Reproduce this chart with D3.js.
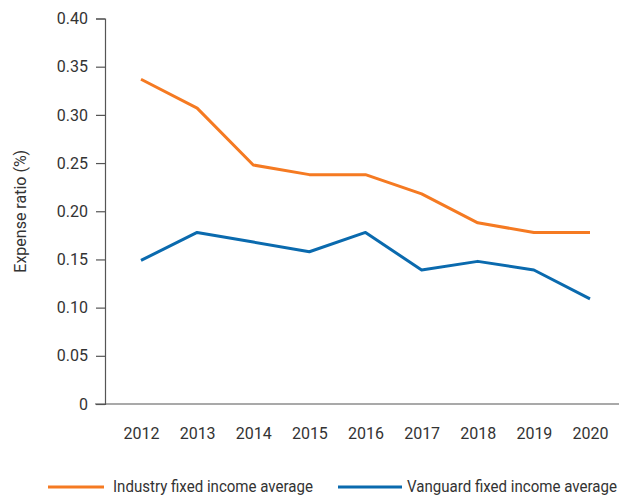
<!DOCTYPE html>
<html>
<head>
<meta charset="utf-8">
<script src="https://cdn.jsdelivr.net/npm/d3@7"></script>
<style>
  body { margin: 0; background: #fff; }
  svg text { font-family: "Roboto", "Liberation Sans", sans-serif; fill: #333; }
</style>
</head>
<body>
<div id="chart"></div>
<script>
// Expense ratio, fixed income funds, 2012-2020
const years = ["2012", "2013", "2014", "2015", "2016", "2017", "2018", "2019", "2020"];
const industry = [0.337, 0.307, 0.248, 0.238, 0.238, 0.218, 0.188, 0.178, 0.178];
const vanguard = [0.149, 0.178, 0.168, 0.158, 0.178, 0.139, 0.148, 0.139, 0.109];
const yTicks = [0, 0.05, 0.10, 0.15, 0.20, 0.25, 0.30, 0.35, 0.40];
const seriesNames = ["Industry fixed income average", "Vanguard fixed income average"];

const width = 633, height = 497;
const margin = { top: 18, right: 14, bottom: 94, left: 105 };

const svg = d3.select("#chart").append("svg")
  .attr("width", width)
  .attr("height", height);

const x = d3.scalePoint()
  .domain(years)
  .range([141, 590]);

const y = d3.scaleLinear()
  .domain([0, 0.40])
  .range([height - margin.bottom + 1, margin.top + 0.5]);

// y axis
const yAxis = svg.append("g")
  .attr("transform", `translate(${margin.left},0)`)
  .call(d3.axisLeft(y)
    .tickValues(yTicks)
    .tickSize(9)
    .tickPadding(8)
    .tickFormat(d => d === 0 ? "0" : d3.format(".2f")(d)));
yAxis.select(".domain").attr("stroke", "#555").attr("stroke-width", 1.2);
yAxis.selectAll(".tick line").attr("stroke", "#555").attr("stroke-width", 1.2);
yAxis.selectAll("text").style("font-size", "16px").attr("fill", "#333");

// x axis baseline
svg.append("line")
  .attr("x1", 95).attr("x2", 619)
  .attr("y1", y(0)).attr("y2", y(0))
  .attr("stroke", "#555").attr("stroke-width", 1.2);

const xAxis = svg.append("g")
  .attr("transform", `translate(0,${y(0)})`)
  .call(d3.axisBottom(x).tickSize(0).tickPadding(24));
xAxis.select(".domain").remove();
xAxis.selectAll("text").style("font-size", "16px").attr("fill", "#333");

// axis title
svg.append("text")
  .attr("transform", `translate(26,${(y(0) + y(0.40)) / 2}) rotate(-90)`)
  .attr("text-anchor", "middle")
  .style("font-size", "16px")
  .text("Expense ratio (%)");

// lines
const line = d3.line()
  .x((d, i) => x(years[i]))
  .y(d => y(d));

const colors = ["#f57a22", "#0a6aae"];
[industry, vanguard].forEach((vals, k) => {
  svg.append("path")
    .datum(vals)
    .attr("fill", "none")
    .attr("stroke", colors[k])
    .attr("stroke-width", 3)
    .attr("stroke-linejoin", "round")
    .attr("d", line);
});

// legend
const legendY = 487;
const legendItems = [
  { x1: 48, x2: 104, tx: 113, len: 200 },
  { x1: 338, x2: 402, tx: 407, len: 210 }
];
legendItems.forEach((it, k) => {
  svg.append("line")
    .attr("x1", it.x1).attr("x2", it.x2)
    .attr("y1", legendY).attr("y2", legendY)
    .attr("stroke", colors[k]).attr("stroke-width", 3);
  svg.append("text")
    .attr("x", it.tx).attr("y", legendY + 5)
    .attr("textLength", it.len)
    .attr("lengthAdjust", "spacingAndGlyphs")
    .style("font-size", "16px")
    .text(seriesNames[k]);
});
</script>
</body>
</html>
